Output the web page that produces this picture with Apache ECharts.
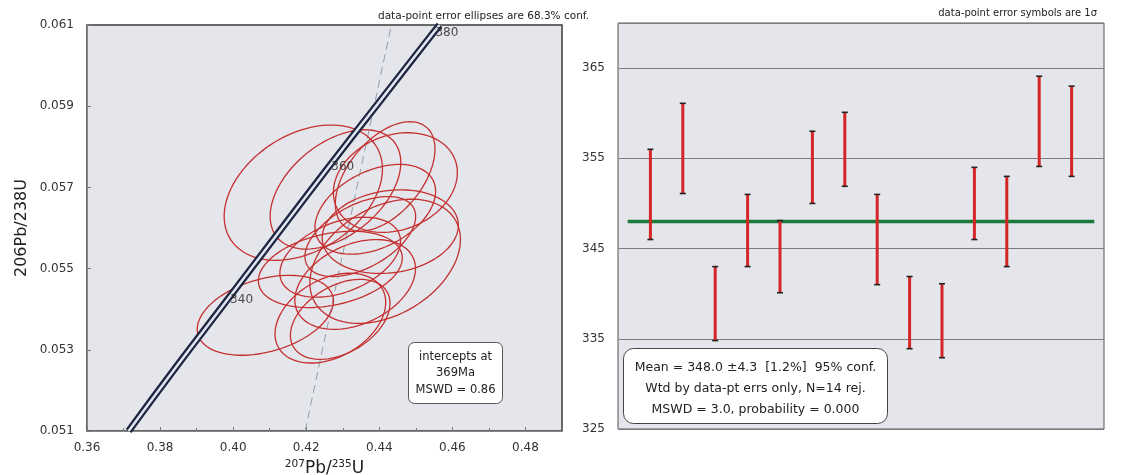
<!DOCTYPE html>
<html><head><meta charset="utf-8">
<script src="https://cdn.jsdelivr.net/npm/echarts/dist/echarts.min.js"></script>
<style>html,body{margin:0;padding:0;background:#fff}#c{width:1123px;height:475px}</style>
</head><body><div id="c"></div>
<script>
// ---- Left panel: concordia diagram ----
const concX = [0.3714, 0.3845, 0.3978, 0.4115, 0.4255, 0.4397, 0.4540, 0.4565];
const concY = [0.0510, 0.05259, 0.05416, 0.05578, 0.05743, 0.05907, 0.06072, 0.0610];
const concAgeLabels = ['340', '360', '380'];
const concAgeX = [0.3978, 0.4255, 0.4540];
const concAgeY = [0.05416, 0.05743, 0.06072];
const discX = [0.4197, 0.4433];
const discY = [0.051, 0.061];
// error ellipses: 207Pb/235U, 206Pb/238U, 1-sigma errors, error correlation
const ellX   = [0.4430, 0.4192, 0.4088, 0.4293, 0.4334, 0.4389, 0.4280, 0.4266, 0.4266, 0.4293, 0.4348, 0.4416, 0.4416, 0.4444];
const ellY   = [0.05591, 0.05687, 0.05385, 0.05528, 0.05461, 0.05646, 0.05695, 0.05498, 0.05378, 0.05375, 0.05579, 0.05518, 0.05727, 0.05712];
const ellSX  = [0.0123, 0.0143, 0.0123, 0.0109, 0.0109, 0.0109, 0.0118, 0.0130, 0.0100, 0.0090, 0.0100, 0.0136, 0.0090, 0.0112];
const ellSY  = [0.00068, 0.00110, 0.00065, 0.00065, 0.00073, 0.00073, 0.00097, 0.00062, 0.00073, 0.00065, 0.00065, 0.00101, 0.00089, 0.00081];
const ellRho = [0.15, 0.35, 0.35, 0.4, 0.35, 0.4, 0.45, 0.3, 0.35, 0.4, 0.5, 0.35, 0.5, 0.2];
const ellConfK = 1.515; // 68.3% conf. 2-D
const leftBox = ['intercepts at', '369Ma', 'MSWD = 0.86'];

// ---- Right panel: weighted mean ----
const ages = [351.0, 356.1, 338.9, 347.0, 344.1, 354.0, 356.0, 346.0, 337.9, 337.0, 350.0, 348.0, 359.1, 358.0];
const errs = [5.0, 5.0, 4.1, 4.0, 4.0, 4.0, 4.1, 5.0, 4.0, 4.1, 4.0, 5.0, 5.0, 5.0];
const meanAge = 348.0;
const meanSpan = [0.3, 14.7];
const rightBox = ['Mean = 348.0 \u00b14.3  [1.2%]  95% conf.', 'Wtd by data-pt errs only, N=14 rej.', 'MSWD = 3.0, probability = 0.000'];

const FONT = '"DejaVu Sans", Verdana, sans-serif';

const ellData = ellX.map((x, i) => [x, ellY[i], ellSX[i], ellSY[i], ellRho[i]]);
const barData = ages.map((a, i) => [i + 1, a, errs[i]]);

const chart = echarts.init(document.getElementById('c'), null, {renderer: 'canvas'});

const option = {
  backgroundColor: '#ffffff',
  animation: false,
  textStyle: {fontFamily: FONT},
  grid: [
    {left: 87, top: 25, right: 561, bottom: 44, show: true, outerBoundsMode: 'none', containLabel: false,
     backgroundColor: '#e5e6eb', borderColor: '#3a3a3a', borderWidth: 1.5},
    {left: 618, top: 23, right: 19, bottom: 46, show: true, outerBoundsMode: 'none', containLabel: false,
     backgroundColor: '#e5e6eb', borderColor: '#555', borderWidth: 1}
  ],
  xAxis: [
    {gridIndex: 0, type: 'value', min: 0.36, max: 0.49, interval: 0.02,
     name: '{s|207}{n|Pb/}{s|235}{n|U}', nameLocation: 'middle', nameGap: 23,
     nameTextStyle: {rich: {
       s: {fontSize: 10.5, verticalAlign: 'top', color: '#222', fontFamily: FONT, lineHeight: 19},
       n: {fontSize: 17, color: '#222', fontFamily: FONT, lineHeight: 19}}},
     axisLine: {show: true, lineStyle: {color: '#888'}},
     axisTick: {show: true, inside: true, length: 4, lineStyle: {color: '#777'}},
     minorTick: {show: true, splitNumber: 2, length: 3, lineStyle: {color: '#777'}},
     splitLine: {show: false},
     axisLabel: {color: '#333', fontSize: 12, fontFamily: FONT, margin: 11, showMaxLabel: false, formatter: v => v.toFixed(2)}},
    {gridIndex: 1, type: 'value', min: 0, max: 15, show: false}
  ],
  yAxis: [
    {gridIndex: 0, type: 'value', min: 0.051, max: 0.061, interval: 0.002,
     name: '206Pb/238U', nameLocation: 'middle', nameGap: 57, nameRotate: 90,
     nameTextStyle: {fontSize: 16, color: '#222', fontFamily: FONT},
     axisLine: {show: true, lineStyle: {color: '#888'}},
     axisTick: {show: true, inside: true, length: 4, lineStyle: {color: '#777'}},
     splitLine: {show: false},
     axisLabel: {color: '#333', fontSize: 12, fontFamily: FONT, margin: 13, formatter: v => v.toFixed(3)}},
    {gridIndex: 1, type: 'value', min: 325, max: 370, interval: 10,
     axisLine: {show: true, lineStyle: {color: '#999'}},
     axisTick: {show: false},
     splitLine: {show: true, lineStyle: {color: '#7c7c80', width: 1}},
     axisLabel: {color: '#333', fontSize: 12, fontFamily: FONT, margin: 13, showMaxLabel: false}}
  ],
  series: [
    {type: 'line', xAxisIndex: 0, yAxisIndex: 0, silent: true, symbol: 'none',
     data: discX.map((x, i) => [x, discY[i]]),
     lineStyle: {color: '#7d8a99', width: 0.8, type: [8, 5]}, z: 2},
    {type: 'custom', xAxisIndex: 0, yAxisIndex: 0, silent: true, data: ellData, z: 3,
     encode: {x: 0, y: 1},
     renderItem: function (params, api) {
       const x = api.value(0), y = api.value(1), sx = api.value(2), sy = api.value(3), r = api.value(4);
       const q = Math.sqrt(1 - r * r);
       const pts = [];
       for (let j = 0; j <= 90; j++) {
         const t = j / 90 * Math.PI * 2;
         const c = Math.cos(t), s = Math.sin(t);
         pts.push(api.coord([x + ellConfK * sx * c, y + ellConfK * sy * (r * c + q * s)]));
       }
       return {type: 'polygon', shape: {points: pts}, style: {fill: 'none', stroke: '#c43030', lineWidth: 1.3}};
     }},
    {type: 'line', xAxisIndex: 0, yAxisIndex: 0, silent: true, symbol: 'none', smooth: true,
     data: concX.map((x, i) => [x, concY[i]]),
     lineStyle: {color: '#1d2540', width: 7}, z: 4},
    {type: 'line', xAxisIndex: 0, yAxisIndex: 0, silent: true, symbol: 'none', smooth: true,
     data: concX.map((x, i) => [x, concY[i]]),
     lineStyle: {color: '#dfe4ee', width: 2.5}, z: 5},
    {type: 'scatter', xAxisIndex: 0, yAxisIndex: 0, silent: true, symbolSize: 0, z: 6,
     data: concAgeX.map((x, i) => ({value: [x, concAgeY[i]], label: {formatter: concAgeLabels[i]}})),
     label: {show: true, position: 'right', distance: 5, offset: [0, -3], color: '#222', fontSize: 12, fontFamily: FONT}},
    // right panel
    {type: 'line', xAxisIndex: 1, yAxisIndex: 1, silent: true, symbol: 'none',
     data: meanSpan.map(x => [x, meanAge]),
     lineStyle: {color: '#1c7a3c', width: 3.5}, z: 3},
    {type: 'custom', xAxisIndex: 1, yAxisIndex: 1, silent: true, data: barData, z: 4,
     encode: {x: 0, y: 1},
     renderItem: function (params, api) {
       const x = api.value(0), a = api.value(1), e = api.value(2);
       const top = api.coord([x, a + e]), bot = api.coord([x, a - e]);
       return {type: 'group', children: [
         {type: 'line', shape: {x1: top[0], y1: top[1], x2: bot[0], y2: bot[1]}, style: {stroke: '#d42626', lineWidth: 3}},
         {type: 'line', shape: {x1: top[0] - 3, y1: top[1], x2: top[0] + 3, y2: top[1]}, style: {stroke: '#222', lineWidth: 1.6}},
         {type: 'line', shape: {x1: bot[0] - 3, y1: bot[1], x2: bot[0] + 3, y2: bot[1]}, style: {stroke: '#222', lineWidth: 1.6}}
       ]};
     }}
  ],
  graphic: [
    {type: 'text', left: 378, top: 11, style: {text: 'data-point error ellipses are 68.3% conf.', font: '10.5px ' + FONT, fill: '#222'}},
    {type: 'text', right: 26, top: 8, style: {text: 'data-point error symbols are 1\u03c3', font: '10px ' + FONT, fill: '#222'}},
    {type: 'group', left: 408, top: 342, children: [
      {type: 'rect', shape: {x: 0, y: 0, width: 94, height: 61, r: 6}, style: {fill: '#fff', stroke: '#555', lineWidth: 1}},
      {type: 'text', x: 47, y: 15, style: {text: leftBox[0], font: '11.5px ' + FONT, fill: '#222', textAlign: 'center', textVerticalAlign: 'middle'}},
      {type: 'text', x: 47, y: 31, style: {text: leftBox[1], font: '11.5px ' + FONT, fill: '#222', textAlign: 'center', textVerticalAlign: 'middle'}},
      {type: 'text', x: 47, y: 48, style: {text: leftBox[2], font: '11.5px ' + FONT, fill: '#222', textAlign: 'center', textVerticalAlign: 'middle'}}
    ]},
    {type: 'group', left: 623, top: 348, children: [
      {type: 'rect', shape: {x: 0, y: 0, width: 264, height: 75, r: 10}, style: {fill: '#fff', stroke: '#444', lineWidth: 1}},
      {type: 'text', x: 132, y: 19, style: {text: rightBox[0], font: '12.5px ' + FONT, fill: '#222', textAlign: 'center', textVerticalAlign: 'middle'}},
      {type: 'text', x: 132, y: 40, style: {text: rightBox[1], font: '12.5px ' + FONT, fill: '#222', textAlign: 'center', textVerticalAlign: 'middle'}},
      {type: 'text', x: 132, y: 61, style: {text: rightBox[2], font: '12.5px ' + FONT, fill: '#222', textAlign: 'center', textVerticalAlign: 'middle'}}
    ]}
  ]
};
chart.setOption(option);
</script>
</body></html>
